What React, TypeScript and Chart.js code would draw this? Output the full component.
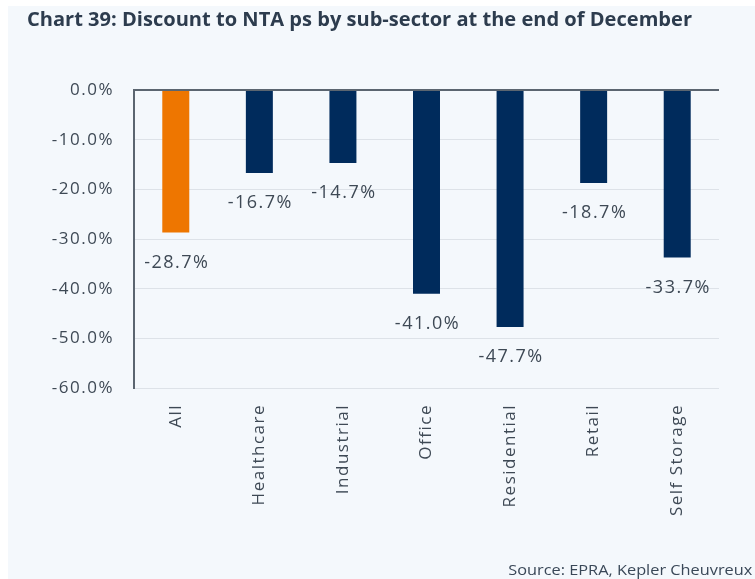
import React, { useEffect, useRef } from 'react';
import { Chart, registerables } from 'chart.js';

Chart.register(...registerables);

const titleText = 'Chart 39: Discount to NTA ps by sub-sector at the end of December';
const sourceText = 'Source: EPRA, Kepler Cheuvreux';
const categories = ['All', 'Healthcare', 'Industrial', 'Office', 'Residential', 'Retail', 'Self Storage'];
const discounts = [-28.7, -16.7, -14.7, -41.0, -47.7, -18.7, -33.7];
const barColors = ['#ee7600', '#002b5c', '#002b5c', '#002b5c', '#002b5c', '#002b5c', '#002b5c'];
const yMin = -60;
const yMax = 0;
const yStep = 10;

const fmtPct = (v: number) => v.toFixed(1) + '%';

const PAGE_W = 755;
const PAGE_H = 579;
const BOX_L = 8;
const BOX_T = 6;
const W = PAGE_W - BOX_L;
const H = PAGE_H - BOX_T;
const TEXT = '#3e4955';
const AXIS = '#5b6570';
const GRID = '#dde2e8';
const SPACING = '1.5px';

export default function App() {
  const canvasRef = useRef<HTMLCanvasElement | null>(null);
  const titleRef = useRef<HTMLSpanElement | null>(null);
  const sourceRef = useRef<HTMLSpanElement | null>(null);

  useEffect(() => {
    const prevMargin = document.body.style.margin;
    document.body.style.margin = '0';

    const fit = (el: HTMLSpanElement | null, target: number) => {
      if (!el) return;
      el.style.transform = 'none';
      const w = el.getBoundingClientRect().width;
      if (w > 0) el.style.transform = `scaleX(${target / w})`;
    };
    fit(titleRef.current, 665);
    fit(sourceRef.current, 244);

    const canvas = canvasRef.current;
    if (!canvas) return;

    const spacingPlugin = {
      id: 'letterSpacingPlugin',
      beforeUpdate(chart: any) {
        chart.ctx.letterSpacing = SPACING;
      },
      beforeDraw(chart: any) {
        chart.ctx.letterSpacing = SPACING;
      },
    };

    const valueLabels = {
      id: 'valueLabels',
      afterDatasetsDraw(chart: any) {
        const ctx = chart.ctx;
        const meta = chart.getDatasetMeta(0);
        ctx.save();
        ctx.font = '18px "Open Sans"';
        ctx.fillStyle = TEXT;
        ctx.textAlign = 'center';
        ctx.textBaseline = 'middle';
        meta.data.forEach((bar: any, i: number) => {
          ctx.fillText(fmtPct(discounts[i]), bar.x + 1, bar.y + 30);
        });
        ctx.restore();
      },
    };

    const chart = new Chart(canvas, {
      type: 'bar',
      data: {
        labels: categories,
        datasets: [
          {
            data: discounts,
            backgroundColor: barColors,
            borderWidth: 0,
            barPercentage: 0.323,
            categoryPercentage: 1,
          },
        ],
      },
      options: {
        responsive: false,
        animation: false,
        layout: { padding: { left: 0, top: 84, right: 36, bottom: 0 } },
        plugins: {
          legend: { display: false },
          tooltip: { enabled: false },
          title: { display: false },
        },
        scales: {
          x: {
            grid: { display: false },
            border: { display: false },
            ticks: {
              color: TEXT,
              font: { family: 'Open Sans', size: 17 },
              maxRotation: 90,
              minRotation: 90,
              autoSkip: false,
              padding: 8,
            },
            afterFit(scale: any) {
              scale.height = 191;
            },
          },
          y: {
            min: yMin,
            max: yMax,
            ticks: {
              stepSize: yStep,
              color: TEXT,
              font: { family: 'Open Sans', size: 17 },
              padding: 20,
              callback: (v: any) => fmtPct(Number(v)),
            },
            grid: {
              drawTicks: false,
              color: (c: any) => (c.tick && c.tick.value === 0 ? AXIS : GRID),
              lineWidth: (c: any) => (c.tick && c.tick.value === 0 ? 2 : 1),
            },
            border: { display: true, color: AXIS, width: 2 },
            afterFit(scale: any) {
              scale.width = 126;
            },
          },
        },
      },
      plugins: [spacingPlugin, valueLabels],
    } as any);

    return () => {
      chart.destroy();
      document.body.style.margin = prevMargin;
    };
  }, []);

  return (
    <div style={{ position: 'relative', width: PAGE_W, height: PAGE_H, background: '#ffffff', overflow: 'hidden' }}>
      <div
        style={{
          position: 'absolute',
          left: BOX_L,
          top: BOX_T,
          width: W,
          height: H,
          background: '#f4f8fc',
          overflow: 'hidden',
        }}
      >
        <canvas ref={canvasRef} width={W} height={H} style={{ position: 'absolute', left: 0, top: 0 }} />
        <div
          style={{
            position: 'absolute',
            left: 19,
            top: 3,
            whiteSpace: 'nowrap',
            fontFamily: '"Open Sans", sans-serif',
            fontWeight: 700,
            fontSize: 20,
            lineHeight: '20px',
            color: '#2d3c4e',
          }}
        >
          <span ref={titleRef} style={{ display: 'inline-block', transformOrigin: 'left top' }}>
            {titleText}
          </span>
        </div>
        <div
          style={{
            position: 'absolute',
            right: 3,
            top: 556,
            whiteSpace: 'nowrap',
            fontFamily: '"Open Sans", sans-serif',
            fontSize: 15,
            lineHeight: '15px',
            color: '#3a4858',
          }}
        >
          <span ref={sourceRef} style={{ display: 'inline-block', transformOrigin: 'right top' }}>
            {sourceText}
          </span>
        </div>
      </div>
    </div>
  );
}
